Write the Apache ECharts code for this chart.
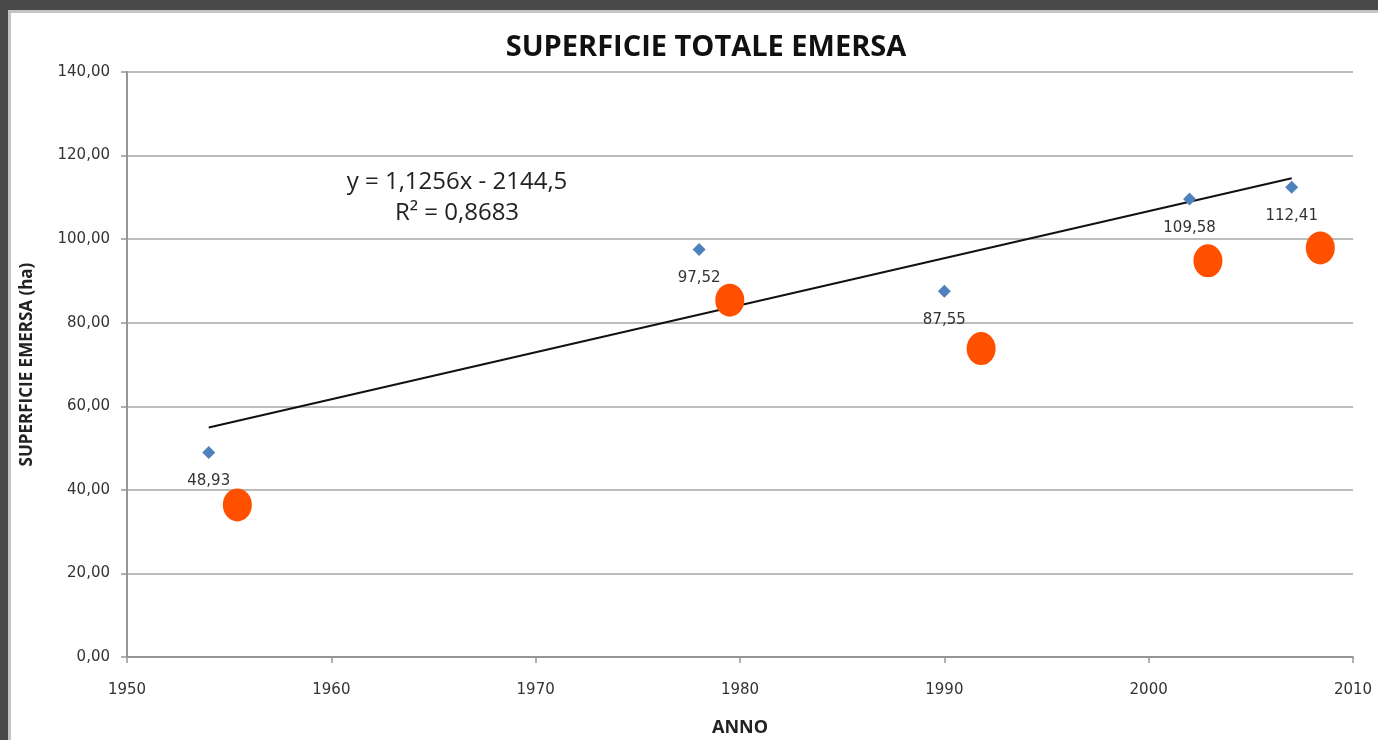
<!DOCTYPE html>
<html>
<head>
<meta charset="utf-8">
<script src="https://cdn.jsdelivr.net/npm/echarts@6/dist/echarts.min.js"></script>
<style>
html,body{margin:0;padding:0;background:#494949;width:1378px;height:740px;overflow:hidden;}
#panel{position:absolute;left:8px;top:10px;width:1370px;height:730px;background:#fff;box-sizing:border-box;border-left:3px solid #c4c4c4;border-top:3px solid #c4c4c4;}
#chart{position:absolute;left:0;top:0;width:1378px;height:740px;}
</style>
</head>
<body>
<div id="panel"></div>
<div id="chart"></div>
<script>
// Data
var years = [1954, 1978, 1990, 2002, 2007];
var surface = [48.93, 97.52, 87.55, 109.58, 112.41];
var markerYears = [1955.4, 1979.5, 1991.8, 2002.9, 2008.4];
var markerValues = [36.4, 85.4, 73.8, 94.8, 97.9];
var trendSlope = 1.1256;
var trendIntercept = -2144.5;
var trendR2 = 0.8683;
var yTicks = [0, 20, 40, 60, 80, 100, 120, 140];
var xTicks = [1950, 1960, 1970, 1980, 1990, 2000, 2010];

function comma(v, d){ return v.toFixed(d).replace('.', ','); }

var trendData = [years[0], years[years.length-1]].map(function(x){ return [x, trendSlope*x + trendIntercept]; });

var chart = echarts.init(document.getElementById('chart'), null, {renderer:'canvas'});
var axisGrey = '#969696';
var labelFont = 'DejaVu Sans';
var labelSize = 15;
var option = {
  backgroundColor: 'transparent',
  animation: false,
  title: {
    text: 'SUPERFICIE TOTALE EMERSA',
    left: 701, top: 28, textAlign: 'center',
    textStyle: {fontFamily: 'Open Sans', fontWeight: 'bold', fontSize: 29, color: '#111'}
  },
  grid: {left: 127, top: 72, right: 25, bottom: 83, containLabel: false, outerBoundsMode: 'none'},
  xAxis: {
    type: 'value', min: xTicks[0], max: xTicks[xTicks.length-1], interval: 10,
    name: 'ANNO', nameLocation: 'middle', nameGap: 62,
    nameTextStyle: {fontFamily: 'Open Sans', fontWeight: 'bold', fontSize: 18, color: '#222'},
    axisLine: {show: true, lineStyle: {color: axisGrey, width: 2}},
    axisTick: {show: true, inside: false, length: 6, lineStyle: {color: axisGrey, width: 1.5}},
    axisLabel: {margin: 26, fontFamily: labelFont, fontSize: labelSize, color: '#333', formatter: function(v){return String(v);}},
    splitLine: {show: false}
  },
  yAxis: {
    type: 'value', min: yTicks[0], max: yTicks[yTicks.length-1], interval: 20,
    name: 'SUPERFICIE EMERSA (ha)', nameLocation: 'middle', nameGap: 91, nameRotate: 90,
    nameTextStyle: {fontFamily: 'Open Sans', fontWeight: 'bold', fontSize: 17, color: '#222'},
    axisLine: {show: true, lineStyle: {color: axisGrey, width: 2}},
    axisTick: {show: true, inside: false, length: 6, lineStyle: {color: axisGrey, width: 1.5}},
    axisLabel: {margin: 17, fontFamily: labelFont, fontSize: labelSize, color: '#333', formatter: function(v){return comma(v,2);}},
    splitLine: {show: true, lineStyle: {color: '#a6a6a6', width: 1.5}}
  },
  series: [
    {
      type: 'line', data: trendData, symbol: 'none', z: 3,
      lineStyle: {color: '#111', width: 2}
    },
    {
      type: 'scatter', symbol: 'diamond', symbolSize: 13, z: 4,
      data: years.map(function(y,i){ return [y, surface[i]]; }),
      itemStyle: {color: '#4f81bd', opacity: 1},
      label: {show: true, position: 'bottom', distance: 15, fontFamily: labelFont, fontSize: labelSize, color: '#333',
        formatter: function(p){ return comma(p.value[1], 2); }}
    },
    {
      type: 'scatter', symbol: 'circle', symbolSize: [29, 33], z: 5,
      data: markerYears.map(function(y,i){ return [y, markerValues[i]]; }),
      itemStyle: {color: '#ff5000', opacity: 1}
    }
  ],
  graphic: [
    {type: 'text', x: 457, y: 182, style: {text: 'y = ' + comma(trendSlope,4) + 'x - ' + comma(-trendIntercept,1), font: '24px "Open Sans"', fill: '#222', textAlign: 'center', textVerticalAlign: 'middle'}},
    {type: 'text', x: 457, y: 213, style: {text: 'R² = ' + comma(trendR2,4), font: '24px "Open Sans"', fill: '#222', textAlign: 'center', textVerticalAlign: 'middle'}}
  ]
};
chart.setOption(option);
</script>
</body>
</html>
